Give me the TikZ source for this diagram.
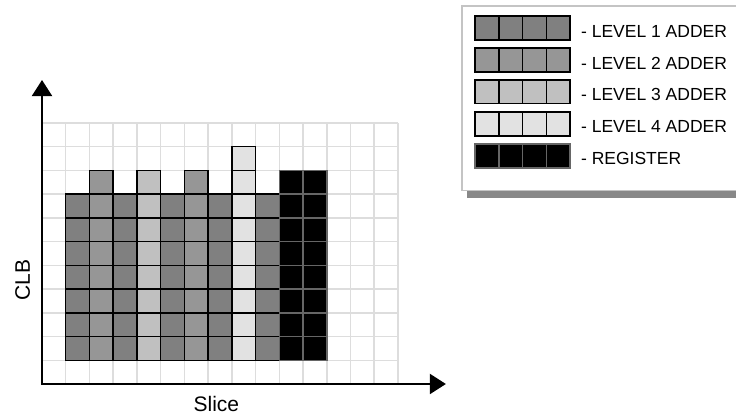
\documentclass[tikz,border=0pt]{standalone}
\usepackage{fontspec}
\setmainfont{Liberation Sans}
\usetikzlibrary{arrows.meta}
\definecolor{lvlone}{HTML}{808080}
\definecolor{lvltwo}{HTML}{969696}
\definecolor{lvlthree}{HTML}{C0C0C0}
\definecolor{lvlfour}{HTML}{E2E2E2}
\definecolor{gridgray}{HTML}{DDDDDD}
\definecolor{reggray}{HTML}{666666}
\definecolor{boxgray}{HTML}{C4C4C4}
\definecolor{shadowgray}{HTML}{888888}
\begin{document}
\begin{tikzpicture}[x=23.73pt,y=23.73pt,
  gridline/.style={draw=gridgray,line width=1.5pt},
  adder/.style={draw=black,line width=1.5pt},
  register/.style={fill=black,draw=reggray,line width=1.5pt},
  axisline/.style={line width=2pt,{Triangle[length=16pt,width=20pt]}-{Triangle[length=16pt,width=20pt]}},
  axislabel/.style={font=\fontsize{21}{25}\selectfont,inner sep=0pt},
  legendtext/.style={font=\fontsize{17.5}{21}\selectfont,inner sep=0pt,anchor=base west},
]
\useasboundingbox (-1.770,-1.306) rectangle (29.246,16.182);

% background grid
\foreach \i in {1,...,15} \draw[gridline] (\i,0) -- (\i,11);
\foreach \j in {1,...,11} \draw[gridline] (0,\j) -- (15,\j);

% adder columns: column / fill / top row
\foreach \k/\col/\top in {1/lvlone/8, 2/lvltwo/9, 3/lvlone/8, 4/lvlthree/9,
                         5/lvlone/8, 6/lvltwo/9, 7/lvlone/8, 8/lvlfour/10, 9/lvlone/8} {
  \pgfmathtruncatemacro\last{\top-1}
  \foreach \r in {1,...,\last}
    \draw[adder,fill=\col] (\k,\r) rectangle ++(1,1);
}

% register columns
\foreach \k in {10,11}
  \foreach \r in {1,...,8}
    \draw[register] (\k,\r) rectangle ++(1,1);

% axes
\coordinate (ytip) at (0,12.81);
\coordinate (corner) at (0,0);
\coordinate (xtip) at (17.02,0);
\draw[axisline] (ytip) -- (corner) -- (xtip);
\node[axislabel,rotate=90,anchor=base] (clb) at (-0.51,4.38) {CLB};
\node[axislabel,anchor=base] (slice) at (7.35,-1.14) {Slice};

% legend
\begin{scope}
  \clip (-1.770,-1.306) rectangle (29.246,16.182);
  \fill[shadowgray] (17.91,7.84) rectangle (29.6,8.14);
  \draw[draw=boxgray,line width=1.2pt,fill=white] (17.70,8.17) rectangle (29.6,15.93);
\end{scope}
\foreach \n/\col/\yc/\yb/\txt in {1/lvlone/15.00/14.62/{- LEVEL 1 ADDER},
                                   2/lvltwo/13.65/13.27/{- LEVEL 2 ADDER},
                                   3/lvlthree/12.31/11.93/{- LEVEL 3 ADDER},
                                   4/lvlfour/10.96/10.58/{- LEVEL 4 ADDER}} {
  \foreach \c in {0,...,3}
    \draw[adder,fill=\col] (18.25+\c,\yc-0.5) rectangle ++(1,1);
  \node[legendtext] (key\n) at (22.71,\yb) {\txt};
}
\foreach \c in {0,...,3}
  \draw[register] (18.25+\c,9.11) rectangle ++(1,1);
\node[legendtext] (keyreg) at (22.71,9.23) {- REGISTER};
\end{tikzpicture}
\end{document}
